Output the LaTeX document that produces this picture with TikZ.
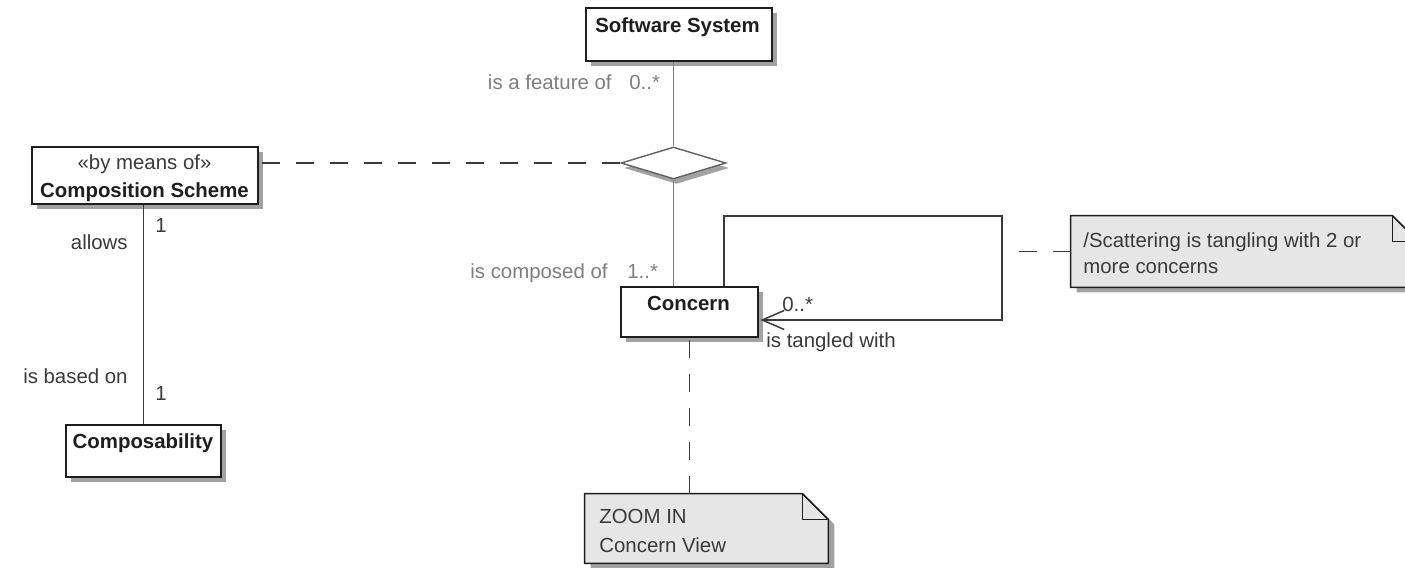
\documentclass[tikz,border=0pt]{standalone}
\usepackage{fontspec}
\setmainfont{Liberation Sans}
\usetikzlibrary{shapes.geometric,shadows,arrows.meta}
\definecolor{bordc}{HTML}{1E1E1E}
\definecolor{darkc}{HTML}{3A3A3A}
\definecolor{grayc}{HTML}{7E7E7E}
\definecolor{shadc}{HTML}{A2A2A2}
\definecolor{notec}{HTML}{E6E6E6}
\tikzset{
  lbl/.style={font=\fontsize{10.2pt}{14pt}\selectfont, inner sep=0pt},
  darktxt/.style={lbl, text=darkc},
  graytxt/.style={lbl, text=grayc},
  titletxt/.style={lbl, text=bordc, font=\fontsize{10.2pt}{14pt}\selectfont\bfseries},
  umlbox/.style={draw=bordc, fill=white, line width=0.75pt, inner sep=0pt,
    drop shadow={shadow xshift=2.5pt, shadow yshift=-2.5pt, fill=shadc, opacity=1}},
  diabox/.style={diamond, draw=darkc!80, fill=white, line width=0.7pt, inner sep=0pt,
    drop shadow={shadow xshift=1.5pt, shadow yshift=-2.5pt, fill=shadc, opacity=1}},
  noteframe/.style={inner sep=0pt},
  notepath/.style={draw=bordc, fill=notec, line width=0.75pt, line join=miter},
  grayline/.style={draw=grayc, line width=0.65pt},
  darkline/.style={draw=darkc, line width=0.65pt},
  dashline/.style={draw=darkc, line width=0.65pt, dash pattern=on 9pt off 8pt},
}
\begin{document}
\begin{tikzpicture}[x=0.5pt,y=-0.5pt]
\clip (0,0) rectangle (1405,568);
\fill[white] (0,0) rectangle (1405,568);

% boxes
\node[umlbox, minimum width=93pt, minimum height=26.5pt] (ss) at (679,34.5) {};
\node[titletxt, anchor=base] (sst) at (677.5,32) {Software System};

\node[umlbox, minimum width=113pt, minimum height=28.5pt] (cs) at (145,175.5) {};
\node[darktxt, anchor=base] (cst1) at (144.5,169) {«by means of»};
\node[titletxt, anchor=base] (cst2) at (144.5,197) {Composition Scheme};

\node[umlbox, minimum width=77.5pt, minimum height=26pt] (cb) at (143.5,451) {};
\node[titletxt, anchor=base] (cbt) at (143,448) {Composability};

\node[umlbox, minimum width=68.5pt, minimum height=25pt] (con) at (689.5,312) {};
\node[titletxt, anchor=base] (cont) at (688.5,310) {Concern};

\node[diabox, minimum width=52.5pt, minimum height=16pt] (dia) at (673.5,163) {};

% notes
\node[noteframe, minimum width=173.5pt, minimum height=35.5pt] (sc) at (1244.5,251.5) {};
\fill[shadc] ([xshift=3pt,yshift=-2.5pt]sc.north west) -- ([xshift=-10pt,yshift=-2.5pt]sc.north east)
  -- ([xshift=3pt,yshift=-15.5pt]sc.north east) -- ([xshift=3pt,yshift=-2.5pt]sc.south east)
  -- ([xshift=3pt,yshift=-2.5pt]sc.south west) -- cycle;
\path[notepath] (sc.north west) -- ([xshift=-13pt]sc.north east) -- ([yshift=-13pt]sc.north east)
  -- (sc.south east) -- (sc.south west) -- cycle;
\draw[draw=bordc, line width=0.75pt] ([xshift=-13pt]sc.north east) |- ([yshift=-13pt]sc.north east);
\node[darktxt, anchor=base west] (sct1) at (1083,247) {/Scattering is tangling with 2 or};
\node[darktxt, anchor=base west] (sct2) at (1083,273) {more concerns};

\node[noteframe, minimum width=121.5pt, minimum height=34.5pt] (zn) at (706.5,528.5) {};
\fill[shadc] ([xshift=3pt,yshift=-2.5pt]zn.north west) -- ([xshift=-10pt,yshift=-2.5pt]zn.north east)
  -- ([xshift=3pt,yshift=-15.5pt]zn.north east) -- ([xshift=3pt,yshift=-2.5pt]zn.south east)
  -- ([xshift=3pt,yshift=-2.5pt]zn.south west) -- cycle;
\path[notepath] (zn.north west) -- ([xshift=-13pt]zn.north east) -- ([yshift=-13pt]zn.north east)
  -- (zn.south east) -- (zn.south west) -- cycle;
\draw[draw=bordc, line width=0.75pt] ([xshift=-13pt]zn.north east) |- ([yshift=-13pt]zn.north east);
\node[darktxt, anchor=base west] (znt1) at (599,523) {ZOOM IN};
\node[darktxt, anchor=base west] (znt2) at (599,552) {Concern View};

% connectors
\draw[grayline] (dia.north) -- (dia.north |- ss.south);
\draw[grayline] (dia.south) -- (dia.south |- con.north);
\draw[dashline] (dia.west) -- (dia.west -| cs.east);
\draw[darkline] (cb.north) -- (cb.north |- cs.south);

\coordinate (lp1) at (724,216);
\coordinate (lp2) at (1002,216);
\coordinate (lp3) at (1002,320);
\draw[darkline, -{Straight Barb[length=11pt,width=9.5pt,line width=0.75pt]}]
  (con.north -| lp1) -- (lp1) -- (lp2) -- (lp3) -- ([xshift=0.8pt]con.east |- lp3);

\draw[dashline] (sc.west) -- (sc.west -| lp2);
\draw[dashline] (zn.north -| con.south) -- (con.south);

% labels
\node[graytxt, anchor=base east] (l1) at (612,89) {is a feature of};
\node[graytxt, anchor=base west] (l2) at (629,89) {0..*};
\node[graytxt, anchor=base east] (l3) at (608,278) {is composed of};
\node[graytxt, anchor=base west] (l4) at (627,278) {1..*};
\node[darktxt, anchor=base east] (l5) at (128,249) {allows};
\node[darktxt, anchor=base west] (l6) at (155,232) {1};
\node[darktxt, anchor=base east] (l7) at (128,383) {is based on};
\node[darktxt, anchor=base west] (l8) at (155,400) {1};
\node[darktxt, anchor=base west] (l9) at (782,311) {0..*};
\node[darktxt, anchor=base west] (l10) at (766,347) {is tangled with};
\end{tikzpicture}
\end{document}
